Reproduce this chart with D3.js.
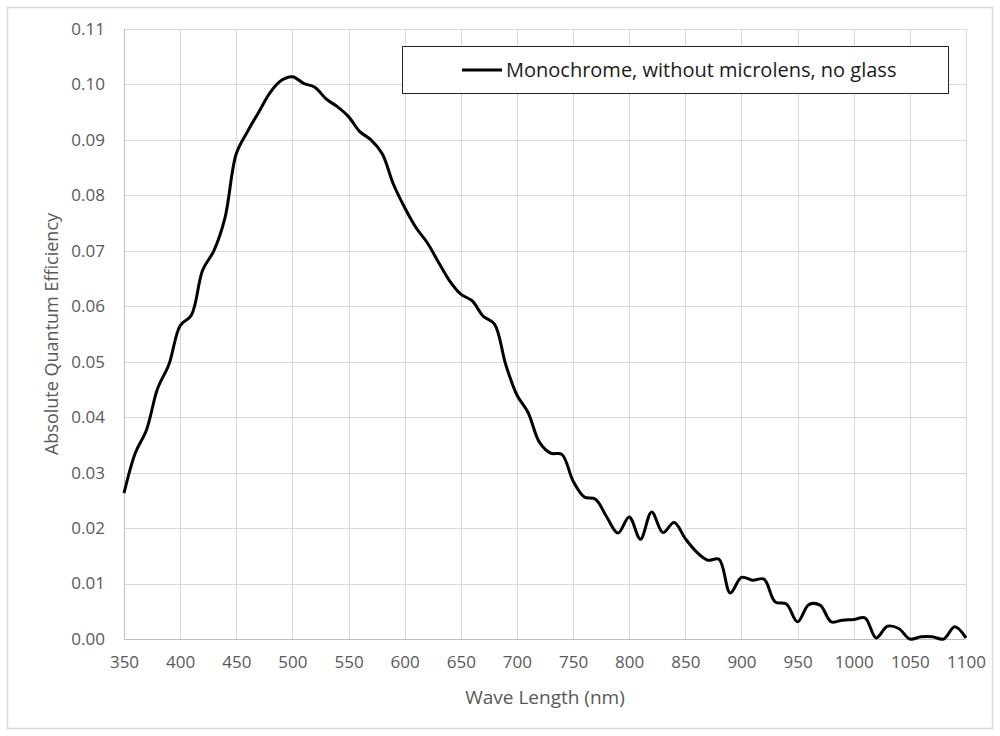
<!DOCTYPE html>
<head>
  <meta charset="utf-8">
  <script src="https://d3js.org/d3.v7.min.js"></script>
  <style>
    body { margin:0; background:#fff; }
    text { font-family: "Open Sans", sans-serif; fill:#595959; }
  </style>
</head>
<body>
  <script>
    // wave lengths (nm), every 10 nm
    var waveLengths = d3.range(350, 1101, 10);
    // absolute quantum efficiency
    var qeValues = [
      0.0263, 0.0335, 0.0377, 0.0452, 0.0495, 0.0565, 0.0584, 0.0665, 0.0700, 0.0760,
      0.0875, 0.0915, 0.0950, 0.0985, 0.1007, 0.1014, 0.1002, 0.0995, 0.0974, 0.0960,
      0.0942, 0.0915, 0.0900, 0.0875, 0.0820, 0.0778, 0.0742, 0.0715, 0.0680, 0.0646,
      0.0622, 0.0610, 0.0582, 0.0568, 0.0495, 0.0440, 0.0408, 0.0355, 0.0335, 0.0333,
      0.0285, 0.0256, 0.0252, 0.0220, 0.0191, 0.0220, 0.0180, 0.0229, 0.0192, 0.0210,
      0.0181, 0.0157, 0.0142, 0.0144, 0.0083, 0.0111, 0.0106, 0.0108, 0.0067, 0.0063,
      0.0031, 0.0062, 0.0061, 0.0031, 0.0034, 0.0035, 0.0038, 0.0002, 0.0023, 0.0019,
      0.0000, 0.0004, 0.0004, 0.0000, 0.0022, 0.0002
    ];
    var xTicks = d3.range(350, 1101, 50);
    var yTicks = d3.range(0, 12).map(function(i){ return i / 100; });
    var seriesName = "Monochrome, without microlens, no glass";

    var width = 1000, height = 736;
    var margin = {top: 29, right: 34, bottom: 97, left: 124};

    var svg = d3.select("body").append("svg")
      .attr("width", width)
      .attr("height", height);

    // outer chart border
    svg.append("rect")
      .attr("x", 7.5).attr("y", 7.5)
      .attr("width", width - 15).attr("height", height - 15)
      .attr("fill", "#fff")
      .attr("stroke", "#d9d9d9")
      .attr("stroke-width", 1.5);

    var x = d3.scaleLinear().domain([350, 1100]).range([margin.left, width - margin.right]);
    var y = d3.scaleLinear().domain([0, 0.11]).range([height - margin.bottom, margin.top]);

    // grid
    var grid = svg.append("g");
    grid.selectAll("line.v").data(xTicks).enter().append("line")
      .attr("x1", function(d){ return Math.round(x(d)) + 0.5; })
      .attr("x2", function(d){ return Math.round(x(d)) + 0.5; })
      .attr("y1", y(0.11)).attr("y2", y(0))
      .attr("stroke", "#d9d9d9");
    grid.selectAll("line.h").data(yTicks).enter().append("line")
      .attr("y1", function(d){ return Math.round(y(d)) + 0.5; })
      .attr("y2", function(d){ return Math.round(y(d)) + 0.5; })
      .attr("x1", x(350)).attr("x2", x(1100))
      .attr("stroke", "#d9d9d9");

    // axis lines
    svg.append("line")
      .attr("x1", x(350)).attr("x2", x(1100))
      .attr("y1", Math.round(y(0)) + 0.5).attr("y2", Math.round(y(0)) + 0.5)
      .attr("stroke", "#bfbfbf");
    svg.append("line")
      .attr("x1", Math.round(x(350)) + 0.5).attr("x2", Math.round(x(350)) + 0.5)
      .attr("y1", y(0.11)).attr("y2", y(0))
      .attr("stroke", "#bfbfbf");

    // axes (labels only)
    var xAxis = svg.append("g")
      .attr("transform", "translate(0," + y(0) + ")")
      .call(d3.axisBottom(x).tickValues(xTicks).tickSize(0).tickPadding(17).tickFormat(d3.format("d")));
    var yAxis = svg.append("g")
      .attr("transform", "translate(" + x(350) + ",0)")
      .call(d3.axisLeft(y).tickValues(yTicks).tickSize(0).tickPadding(19).tickFormat(d3.format(".2f")));
    [xAxis, yAxis].forEach(function(a){
      a.select(".domain").remove();
      a.selectAll("text").style("font-family", "'Open Sans', sans-serif")
        .style("font-size", "17px").attr("fill", "#595959");
    });

    // axis titles
    svg.append("text")
      .attr("x", (x(350) + x(1100)) / 2).attr("y", 704)
      .attr("text-anchor", "middle")
      .style("font-size", "19px")
      .text("Wave Length (nm)");
    svg.append("text")
      .attr("transform", "translate(58," + (y(0) + y(0.11)) / 2 + ") rotate(-90)")
      .attr("text-anchor", "middle")
      .style("font-size", "18px")
      .text("Absolute Quantum Efficiency");

    // the curve
    var data = waveLengths.map(function(w, i){ return {w: w, v: qeValues[i]}; });
    var line = d3.line()
      .x(function(d){ return x(d.w); })
      .y(function(d){ return y(d.v); })
      .curve(d3.curveCatmullRom.alpha(0.5));
    svg.append("path")
      .datum(data)
      .attr("d", line)
      .attr("fill", "none")
      .attr("stroke", "#000")
      .attr("stroke-width", 3)
      .attr("stroke-linejoin", "round");

    // legend
    var lg = svg.append("g");
    lg.append("rect")
      .attr("x", 402.5).attr("y", 46.5)
      .attr("width", 546).attr("height", 47)
      .attr("fill", "#fff")
      .attr("stroke", "#262626");
    lg.append("line")
      .attr("x1", 462).attr("x2", 502)
      .attr("y1", 70).attr("y2", 70)
      .attr("stroke", "#000").attr("stroke-width", 3);
    lg.append("text")
      .attr("x", 506).attr("y", 77)
      .style("font-size", "20px")
      .style("fill", "#1a1a1a")
      .text(seriesName);
  </script>
</body>
